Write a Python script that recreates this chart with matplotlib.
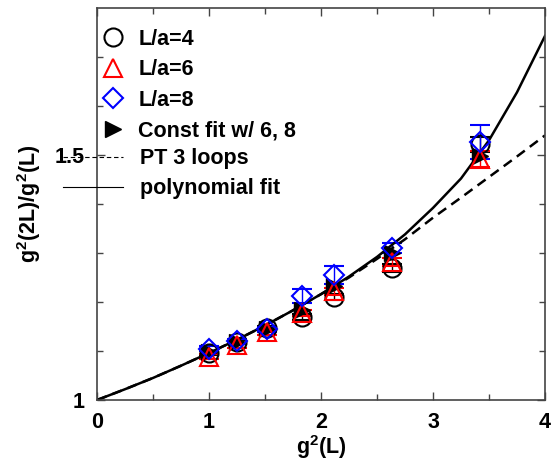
import numpy as np
import matplotlib.pyplot as plt
from matplotlib.lines import Line2D

plt.rcParams['font.family'] = ['Liberation Sans', 'DejaVu Sans']
plt.rcParams['font.weight'] = 'bold'
plt.rcParams['mathtext.fontset'] = 'custom'
plt.rcParams['mathtext.bf'] = 'Liberation Sans:bold'
plt.rcParams['mathtext.rm'] = 'Liberation Sans:bold'

# data
g2 = [1.0, 1.25, 1.52, 1.83, 2.12, 2.63, 3.42]

ratio_L4 = [1.096, 1.118, 1.147, 1.170, 1.210, 1.270, 1.522]
err_L4 = [0.004, 0.004, 0.005, 0.006, 0.006, 0.008, 0.015]
ratio_L6 = [1.088, 1.112, 1.138, 1.178, 1.222, 1.282, 1.492]
err_L6 = [0.005, 0.005, 0.005, 0.006, 0.007, 0.008, 0.016]
ratio_L8 = [1.105, 1.120, 1.144, 1.212, 1.255, 1.310, 1.527]
err_L8 = [0.005, 0.005, 0.006, 0.015, 0.018, 0.010, 0.035]
ratio_fit = [1.097, 1.118, 1.144, 1.184, 1.232, 1.300, 1.498]

curve_x = [0, 0.25, 0.5, 0.75, 1.0, 1.25, 1.5, 1.75, 2.0, 2.25,
           2.5, 2.75, 3.0, 3.25, 3.5, 3.75, 4.0]
poly_y = [1.0, 1.022, 1.045, 1.070, 1.096, 1.123, 1.152, 1.183, 1.216, 1.252,
          1.292, 1.338, 1.392, 1.452, 1.530, 1.628, 1.743]
pt3_y = [1.0, 1.022, 1.045, 1.070, 1.096, 1.123, 1.152, 1.183, 1.216, 1.250,
         1.288, 1.328, 1.372, 1.413, 1.455, 1.497, 1.540]

fig = plt.figure(figsize=(5.54, 4.68), dpi=100)
ax = fig.add_axes([97/554, 68/468, 448/554, 392/468])

ax.errorbar(g2, ratio_L4, yerr=err_L4, fmt='o', ms=13, mfc='none', mec='black',
            mew=1.5, ecolor='black', elinewidth=1, capsize=7)
ax.errorbar(g2, ratio_L6, yerr=err_L6, fmt='^', ms=13, mfc='none', mec='red',
            mew=1.5, ecolor='red', elinewidth=1, capsize=7)
ax.errorbar(g2, ratio_L8, yerr=err_L8, fmt='D', ms=10, mfc='none', mec='blue',
            mew=1.5, ecolor='blue', elinewidth=1, capsize=7)
ax.plot(g2, ratio_fit, '>', ms=12, color='black')
h5, = ax.plot(curve_x, pt3_y, '--', color='black', lw=1.8, dashes=(4, 2.5))
h6, = ax.plot(curve_x, poly_y, '-', color='black', lw=1.8)

ax.set_xlim(0, 4)
ax.set_ylim(1, 1.8)
ax.set_xticks([0, 1, 2, 3, 4])
ax.set_xticks(np.arange(0.5, 4, 1), minor=True)
ax.set_yticks([1, 1.5])
ax.set_yticklabels(['1', '1.5'])
ax.set_yticks([1.1, 1.2, 1.3, 1.4, 1.6, 1.7], minor=True)
ax.tick_params(which='both', direction='in', top=True, right=True, colors='#444',
               labelcolor='black', labelsize=15.5)
ax.tick_params(which='major', length=6, width=1)
ax.tick_params(which='minor', length=4, width=1)
ax.tick_params(axis='x', pad=8.5)
ax.tick_params(axis='y', pad=9)
for s in ax.spines.values():
    s.set_color('#444')
    s.set_linewidth(1.2)

ax.set_xlabel(r'g$^{\mathbf{2}}$(L)', fontsize=15.5, fontweight='bold', labelpad=0)
ax.set_ylabel(r'g$^{\mathbf{2}}$(2L)/g$^{\mathbf{2}}$(L)', fontsize=15.5,
              fontweight='bold', labelpad=8)

marker_handles = [
    Line2D([], [], ls='none', marker='o', ms=13, mfc='none', mec='black', mew=1.5),
    Line2D([], [], ls='none', marker='^', ms=13, mfc='none', mec='red', mew=1.5),
    Line2D([], [], ls='none', marker='D', ms=10, mfc='none', mec='blue', mew=1.5),
    Line2D([], [], ls='none', marker='>', ms=12, color='black'),
]
leg1 = ax.legend(marker_handles, ['L/a=4', 'L/a=6', 'L/a=8', 'Const fit w/ 6, 8'],
                 loc='upper left', bbox_to_anchor=(0.006, 0.947), frameon=False,
                 borderpad=0, borderaxespad=0, handlelength=1.2, handletextpad=0.6,
                 labelspacing=0.44, prop={'weight': 'bold', 'size': 15.5})
ax.add_artist(leg1)
leg2 = ax.legend([h5, h6], ['PT 3 loops', 'polynomial fit'],
                 loc='upper left', bbox_to_anchor=(-0.076, 0.642), frameon=False,
                 borderpad=0, borderaxespad=0, handlelength=2.8, handletextpad=0.78,
                 labelspacing=0.42, prop={'weight': 'bold', 'size': 15.5})
for ln in leg2.get_lines():
    ln.set_linewidth(0.8)

fig.savefig('out.png', dpi=100)
